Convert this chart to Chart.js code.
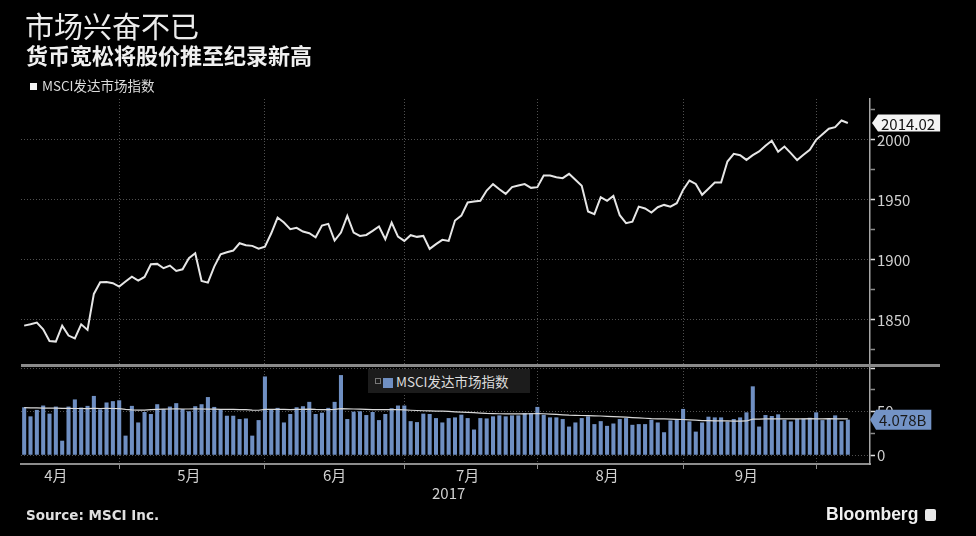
<!DOCTYPE html>
<html>
<head>
<meta charset="utf-8">
<script src="https://cdn.jsdelivr.net/npm/chart.js@4.4.1/dist/chart.umd.min.js"></script>
<style>
  body {
    margin: 0;
    background: #000;
    width: 976px;
    height: 536px;
    overflow: hidden;
    position: relative;
    font-family: "Noto Sans CJK SC", "Noto Sans", sans-serif;
    color: #e6e6e6;
  }
  canvas { position: absolute; left: 0; top: 0; }
  .txt { position: absolute; white-space: nowrap; z-index: 5; }
  #title { left: 25px; top: 8px; font-size: 29px; line-height: 34px; color: #ececec; }
  #subtitle { left: 26px; top: 40px; font-size: 22px; line-height: 28px; font-weight: bold; color: #f0f0f0; }
  #legendTop { left: 30px; top: 76px; font-size: 13.5px; line-height: 18px; color: #dcdcdc; }
  #legendTop i { display: inline-block; width: 7px; height: 7px; background: #f2f2f2; margin-right: 5px; vertical-align: 1px; }
  #legendBottom { left: 368px; top: 369px; width: 162px; height: 24px; background: #1c1c1c; font-size: 13.5px; line-height: 24px; color: #dcdcdc; }
  #legendBottom b { display: inline-block; width: 4px; height: 4px; border: 1px solid #777; margin: 0 2px 0 7px; vertical-align: 3px; }
  #legendBottom i { display: inline-block; width: 10px; height: 10px; background: #6f8fc2; margin-right: 3px; vertical-align: -1px; }
  #sep { position: absolute; left: 21px; top: 364px; width: 919px; height: 3px; background: #8a8a8a; z-index: 4; }
  #source { left: 26px; top: 506px; font-family: "DejaVu Sans", sans-serif; font-weight: bold; font-size: 13.5px; line-height: 18px; color: #e0e0e0; }
  #brand { left: 826px; top: 503px; font-family: "Liberation Sans", Arial, sans-serif; font-weight: bold; font-size: 17.5px; line-height: 22px; color: #f0f0f0; }
  #brand span { display: inline-block; width: 11px; height: 12px; background: #e8e8e8; border-radius: 2px; margin-left: 7px; vertical-align: -1px; }
</style>
</head>
<body>

<div class="txt" id="title">市场兴奋不已</div>
<div class="txt" id="subtitle">货币宽松将股价推至纪录新高</div>
<div class="txt" id="legendTop"><i></i>MSCI发达市场指数</div>
<div class="txt" id="legendBottom"><b></b><i></i>MSCI发达市场指数</div>
<div id="sep"></div>
<div class="txt" id="source">Source: MSCI Inc.</div>
<div class="txt" id="brand">Bloomberg<span></span></div>

<canvas id="priceChart" width="976" height="536"></canvas>
<canvas id="volumeChart" width="976" height="536"></canvas>

<script>

// =========================
// DATA
// =========================

const dates = [
  '04-10','04-11','04-12','04-13','04-14','04-17','04-18','04-19','04-20','04-21',
  '04-24','04-25','04-26','04-27','04-28',
  '05-01','05-02','05-03','05-04','05-05','05-08','05-09','05-10','05-11','05-12',
  '05-15','05-16','05-17','05-18','05-19','05-22','05-23','05-24','05-25','05-26',
  '05-29','05-30','05-31',
  '06-01','06-02','06-05','06-06','06-07','06-08','06-09','06-12','06-13','06-14',
  '06-15','06-16','06-19','06-20','06-21','06-22','06-23','06-26','06-27','06-28',
  '06-29','06-30',
  '07-03','07-04','07-05','07-06','07-07','07-10','07-11','07-12','07-13','07-14',
  '07-17','07-18','07-19','07-20','07-21','07-24','07-25','07-26','07-27','07-28',
  '07-31',
  '08-01','08-02','08-03','08-04','08-07','08-08','08-09','08-10','08-11','08-14',
  '08-15','08-16','08-17','08-18','08-21','08-22','08-23','08-24','08-25','08-28',
  '08-29','08-30','08-31',
  '09-01','09-04','09-05','09-06','09-07','09-08','09-11','09-12','09-13','09-14',
  '09-15','09-18','09-19','09-20','09-21','09-22','09-25','09-26','09-27','09-28',
  '09-29',
  '10-02','10-03','10-04','10-05','10-06','10-09'
];

// empty days after the last value, the axis runs on a little
const padDates = ['10-10','10-11','10-12'];

const prices = [
  1845.3, 1846.4, 1847.8, 1842.2, 1832.5, 1832.0, 1845.3, 1837.0, 1834.7, 1846.4,
  1841.7, 1871.7, 1881.4, 1881.7, 1880.6, 1877.8, 1882.0, 1886.1, 1882.8, 1885.8,
  1896.4, 1896.7, 1893.1, 1895.3, 1890.8, 1892.2, 1901.4, 1905.6, 1882.5, 1881.1,
  1894.4, 1904.7, 1906.4, 1907.8, 1913.9, 1912.2, 1911.7, 1909.4, 1911.1, 1922.2,
  1935.3, 1931.1, 1925.6, 1926.7, 1923.6, 1922.2, 1918.9, 1928.6, 1930.0, 1916.1,
  1922.8, 1936.7, 1922.8, 1920.0, 1920.8, 1924.2, 1927.8, 1917.2, 1931.1, 1919.4,
  1915.8, 1920.6, 1919.2, 1920.0, 1909.2, 1913.1, 1916.7, 1915.8, 1932.8, 1936.9,
  1947.8, 1948.6, 1949.2, 1957.8, 1963.1, 1958.9, 1955.0, 1960.6, 1961.9, 1963.1,
  1960.0, 1960.6, 1970.3, 1970.3, 1968.9, 1968.1, 1971.7, 1966.7, 1961.7, 1940.3,
  1938.1, 1952.2, 1949.2, 1953.3, 1937.2, 1930.6, 1931.9, 1944.4, 1942.8, 1939.4,
  1943.9, 1945.8, 1944.4, 1947.2, 1958.3, 1966.1, 1963.3, 1954.2, 1959.2, 1964.4,
  1964.4, 1981.9, 1988.3, 1987.2, 1983.3, 1987.2, 1990.3, 1995.0, 1999.2, 1990.0,
  1994.4, 1988.9, 1983.1, 1987.5, 1991.7, 2000.0, 2004.7, 2009.2, 2010.6, 2016.1,
  2014.02
];

// volume, in units of 100 million (50 = 5B)
const volumes = [
  55, 44.6, 52, 57, 47.7, 55.8, 16.7, 55.8, 64, 54.7,
  56.6, 68, 52.7, 60.5, 62, 63, 22.5, 56.6, 37.6, 49.6,
  47.3, 58.5, 53, 55.8, 59.7, 53, 50.4, 56.2, 58.5, 66.7,
  55.4, 52.7, 45.3, 45.3, 41.5, 42.2, 22.5, 40.3, 90.3, 52.7,
  54.3, 37.6, 47.3, 55, 56.2, 61.2, 47.3, 48.8, 54.3, 61.2,
  91.9, 41.5, 50, 50.4, 46.1, 49.6, 40.3, 47.3, 53.9, 57,
  57, 39.1, 38, 47.7, 47.3, 42.6, 37.6, 42.6, 43.4, 46.5,
  42.6, 29.5, 42.6, 42.2, 44.6, 45.7, 44.6, 45.7, 45.7, 48.4,
  48.4, 55.4, 46.5, 43.4, 43.4, 41.5, 32.9, 37.6, 42.6, 44.6,
  35.7, 39.1, 33.7, 36.4, 41.5, 42.6, 34.9, 35.7, 35.7, 40.7,
  37.6, 26.4, 39.9, 40.7, 53.1, 38.8, 27.1, 37.6, 44.2, 43.4,
  43.4, 38.8, 41.5, 43.4, 49.2, 79, 32.9, 46.1, 45, 46.9,
  40.7, 38.8, 41.5, 42.2, 43, 49.2, 40.3, 41.5, 45.7, 39.1,
  40.78
];

const volumeAvg = [
  54.5, 54.3, 54.2, 54.0, 54.0, 54.0, 53.8, 53.8, 53.6, 53.6,
  53.5, 53.7, 53.6, 53.8, 53.6, 53.4, 52.5, 52.0, 51.8, 51.8,
  52.2, 52.5, 52.8, 53.0, 53.2, 53.0, 53.0, 53.2, 53.0, 52.9,
  52.8, 52.6, 52.5, 52.5, 52.3, 52.2, 51.8, 51.6, 52.6, 52.6,
  52.7, 52.5, 52.4, 52.5, 52.6, 52.8, 52.5, 52.4, 52.4, 52.6,
  53.5, 53.2, 53.0, 52.8, 52.6, 52.3, 52.2, 52.3, 52.4, 52.3,
  52.0, 51.6, 51.3, 51.0, 50.8, 50.6, 50.6, 50.2, 49.8, 49.5,
  49.2, 48.8, 48.4, 48.0, 47.8, 47.6, 47.5, 47.4, 47.4, 47.5,
  47.6, 47.8, 47.6, 47.2, 46.8, 46.4, 46.0, 45.8, 45.6, 45.4,
  45.2, 45.0, 44.6, 44.3, 44.0, 43.6, 43.2, 42.8, 42.4, 42.0,
  41.8, 41.6, 41.4, 41.2, 41.0, 40.6, 40.2, 39.8, 39.6, 39.5,
  39.4, 39.3, 39.2, 39.2, 39.3, 41.4, 41.5, 41.6, 41.7, 41.7,
  41.6, 41.7, 41.8, 41.8, 41.9, 41.8, 41.8, 41.9, 41.8, 41.8,
  41.8
];

const monthStarts = ['05-01','06-01','07-03','08-01','09-01','10-02'];
const monthLabels = ['4月','5月','6月','7月','8月','9月'];
const monthLabelDates = ['04-17','05-16','06-16','07-17','08-16','09-15'];
const yearLabel = '2017';
const yearLabelDate = '07-12';

const seriesName = 'MSCI发达市场指数';

const labels = dates.concat(padDates);


// =========================
// SHARED STYLE
// =========================

const gridColor = '#505050';
const axisColor = '#a6a6a6';
const tickFont = { family: '"Noto Sans CJK SC", "Noto Sans", sans-serif', size: 15 };

function isMonthStart(i) {
  return monthStarts.includes(labels[i]);
}

// value tag on the right axis at the last point
const lastValueTag = {

  id: 'lastValueTag',

  afterDraw(chart, args, opts) {

    const ctx = chart.ctx;

    const y = chart.scales.y.getPixelForValue(opts.value);

    const x = chart.chartArea.right + opts.gap;

    ctx.save();

    ctx.font = '15px "Noto Sans CJK SC", "Noto Sans", sans-serif';

    const w = ctx.measureText(opts.text).width + 8;

    const h = opts.height;

    ctx.fillStyle = opts.bg;
    ctx.beginPath();
    ctx.moveTo(x, y);
    ctx.lineTo(x + 6, y - h / 2);
    ctx.lineTo(x + 6 + w, y - h / 2);
    ctx.lineTo(x + 6 + w, y + h / 2);
    ctx.lineTo(x + 6, y + h / 2);
    ctx.closePath();
    ctx.fill();

    ctx.fillStyle = opts.color;
    ctx.textBaseline = 'middle';
    ctx.fillText(opts.text, x + 9, y + 1);

    ctx.restore();
  }
};


// =========================
// PRICE CHART
// =========================

new Chart(document.getElementById('priceChart'), {

  type: 'line',

  data: {
    labels: labels,
    datasets: [{
      label: seriesName,
      data: prices,
      borderColor: '#e6e6e6',
      borderWidth: 2,
      pointRadius: 0,
      tension: 0,
      fill: false
    }]
  },

  options: {
    responsive: false,
    animation: false,
    layout: { padding: { left: 21, top: 99, right: 0, bottom: 171 } },
    plugins: {
      legend: { display: false },
      tooltip: { enabled: false },
      lastValueTag: {
        value: prices[prices.length - 1],
        text: prices[prices.length - 1].toFixed(2),
        bg: '#f4f4f4',
        color: '#111',
        height: 17,
        gap: 2
      }
    },
    scales: {
      x: {
        type: 'category',
        offset: true,
        grid: {
          offset: false,
          drawTicks: false,
          color: c => isMonthStart(c.index) ? gridColor : 'transparent'
        },
        border: { display: false, dash: [1, 2] },
        ticks: { display: false, autoSkip: false },
        afterFit: s => { s.height = 0; }
      },
      y: {
        position: 'right',
        min: 1812.5,
        max: 2034,
        grid: {
          color: c => c.tick.value % 50 === 0 ? gridColor : 'transparent',
          tickColor: c => c.tick.value % 50 === 0 ? '#e0e0e0' : '#8a8a8a',
          tickLength: 5,
          tickWidth: 1.5
        },
        border: { color: axisColor, width: 1.5, dash: [1, 2] },
        ticks: {
          stepSize: 25,
          includeBounds: false,
          padding: 2,
          color: '#d0d0d0',
          font: tickFont,
          callback: v => v % 50 === 0 ? v : ''
        },
        afterFit: s => { s.width = 106; }
      }
    }
  },

  plugins: [lastValueTag]
});


// =========================
// VOLUME CHART
// =========================

new Chart(document.getElementById('volumeChart'), {

  type: 'bar',

  data: {
    labels: labels,
    datasets: [
      {
        type: 'line',
        label: 'avg',
        data: volumeAvg,
        borderColor: '#d8d8d8',
        borderWidth: 1.2,
        pointRadius: 0,
        tension: 0,
        order: 0
      },
      {
        type: 'bar',
        label: seriesName,
        data: volumes,
        backgroundColor: '#6f8fc2',
        categoryPercentage: 1,
        barPercentage: 0.64,
        order: 1
      }
    ]
  },

  options: {
    responsive: false,
    animation: false,
    layout: { padding: { left: 21, top: 368, right: 0, bottom: 0 } },
    plugins: {
      legend: { display: false },
      tooltip: { enabled: false },
      lastValueTag: {
        value: volumes[volumes.length - 1],
        text: (volumes[volumes.length - 1] / 10).toFixed(3) + 'B',
        bg: '#7393c6',
        color: '#1a1a1a',
        height: 20,
        gap: 0
      }
    },
    scales: {
      x: {
        type: 'category',
        offset: true,
        grid: {
          offset: false,
          color: c => isMonthStart(c.index) ? gridColor : 'transparent',
          tickColor: c => isMonthStart(c.index) ? '#8c8c8c' : 'transparent',
          tickLength: 5
        },
        border: { color: '#8c8c8c', width: 2, dash: [1, 2] },
        ticks: {
          autoSkip: false,
          maxRotation: 0,
          padding: -3,
          color: '#d0d0d0',
          font: tickFont,
          callback: (v, i) => {
            const m = monthLabelDates.indexOf(labels[i]);
            if (m >= 0) return monthLabels[m];
            if (labels[i] === yearLabelDate) return ['', yearLabel];
            return '';
          }
        },
        afterFit: s => { s.height = 72; }
      },
      y: {
        position: 'right',
        min: -10,
        max: 100,
        grid: {
          color: c => c.tick.value % 50 === 0 ? gridColor : 'transparent',
          tickColor: c => c.tick.value % 50 === 0 ? '#e0e0e0' : '#8a8a8a',
          tickLength: 5,
          tickWidth: 1.5
        },
        border: { color: axisColor, width: 1.5, dash: [1, 2] },
        ticks: {
          stepSize: 25,
          includeBounds: false,
          padding: 2,
          color: '#d0d0d0',
          font: tickFont,
          callback: v => (v === 0 || v === 50) ? v : ''
        },
        afterFit: s => { s.width = 106; }
      }
    }
  },

  plugins: [lastValueTag]
});

</script>
</body>
</html>
